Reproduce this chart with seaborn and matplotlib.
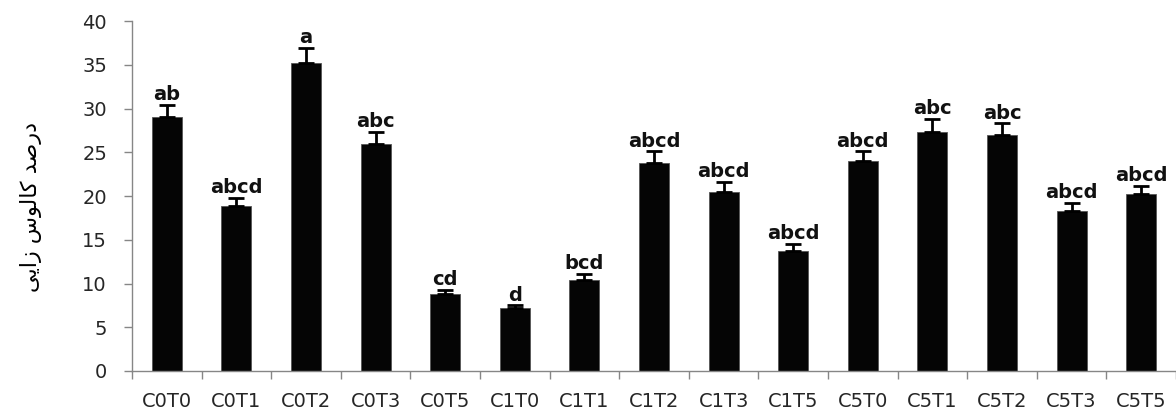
import numpy as np
import pandas as pd
import matplotlib
matplotlib.use('Agg')
import matplotlib.pyplot as plt
import seaborn as sns

# ==========================================
# Data
# ==========================================
TREATMENTS = ['C0T0', 'C0T1', 'C0T2', 'C0T3', 'C0T5',
              'C1T0', 'C1T1', 'C1T2', 'C1T3', 'C1T5',
              'C5T0', 'C5T1', 'C5T2', 'C5T3', 'C5T5']
MEANS = [29.0, 18.9, 35.2, 25.9, 8.8,
         7.2, 10.4, 23.8, 20.5, 13.75,
         24.0, 27.35, 27.0, 18.3, 20.2]
ERRORS = [1.4, 0.9, 1.7, 1.4, 0.5,
          0.3, 0.7, 1.3, 1.1, 0.75,
          1.1, 1.45, 1.3, 0.9, 1.0]
GROUPS = ['ab', 'abcd', 'a', 'abc', 'cd',
          'd', 'bcd', 'abcd', 'abcd', 'abcd',
          'abcd', 'abc', 'abc', 'abcd', 'abcd']
Y_TICKS = [0, 5, 10, 15, 20, 25, 30, 35, 40]

# "درصد کالوس زایی" pre-shaped (presentation forms) and put in visual order,
# since matplotlib does no Arabic shaping / bidi
YLABEL_LOGICAL = ['\uFEA9', '\uFEAD', '\uFEBB', '\uFEAA', ' ',
                  '\uFB90', '\uFE8E', '\uFEDF', '\uFEEE', '\uFEB1', ' ',
                  '\uFEAF', '\uFE8D', '\uFBFE', '\uFBFD']
YLABEL = ''.join(reversed(YLABEL_LOGICAL))

df = pd.DataFrame({'treatment': TREATMENTS, 'mean': MEANS, 'err': ERRORS, 'group': GROUPS})

# ==========================================
# Plot
# ==========================================
sns.set_theme(style='white')
plt.rcParams['font.family'] = ['DejaVu Sans']

fig = plt.figure(figsize=(11.76, 4.12), dpi=100)
ax = fig.add_axes([132 / 1176, 1 - 371 / 412, 1044 / 1176, 350 / 412])

sns.barplot(data=df, x='treatment', y='mean', color='#050505', saturation=1,
            width=0.43, errorbar=None, edgecolor='#555555', linewidth=0.6, ax=ax)

xs = np.arange(len(df))
ax.errorbar(xs, df['mean'], yerr=[np.zeros(len(df)), df['err']], fmt='none',
            ecolor='black', elinewidth=2, capsize=6, capthick=2)

for x, m, e, g in zip(xs, df['mean'], df['err'], df['group']):
    ax.annotate(g, (x, m + e), xytext=(0, 3.5), textcoords='offset points',
                ha='center', va='baseline', fontsize=14, fontweight='bold', color='#111111')

ax.set_xlim(-0.5, len(df) - 0.5)
ax.set_ylim(0, 40)
ax.set_yticks(Y_TICKS)
ax.set_yticklabels([str(t) for t in Y_TICKS])

# excel-style x ticks between categories, labels at bar centres
ax.set_xticks(np.arange(-0.5, len(df) - 0.4, 1.0))
ax.set_xticklabels([])
ax.set_xticks(xs, minor=True)
ax.set_xticklabels(TREATMENTS, minor=True)
ax.tick_params(axis='x', which='major', direction='out', length=6, width=1, color='#868686', bottom=True)
ax.tick_params(axis='x', which='minor', length=0, pad=15, labelsize=14, labelcolor='#262626')
ax.tick_params(axis='y', direction='out', length=6, width=1, color='#868686', left=True,
               pad=12, labelsize=14, labelcolor='#262626')

for side in ['top', 'right']:
    ax.spines[side].set_visible(False)
for side in ['left', 'bottom']:
    ax.spines[side].set_color('#868686')
    ax.spines[side].set_linewidth(1)

ax.set_xlabel('')
ax.set_ylabel(YLABEL, fontsize=16, family=['DejaVu Sans'], color='black')
ax.yaxis.set_label_coords(-0.086, 0.47)

fig.savefig('out.png', dpi=100)
